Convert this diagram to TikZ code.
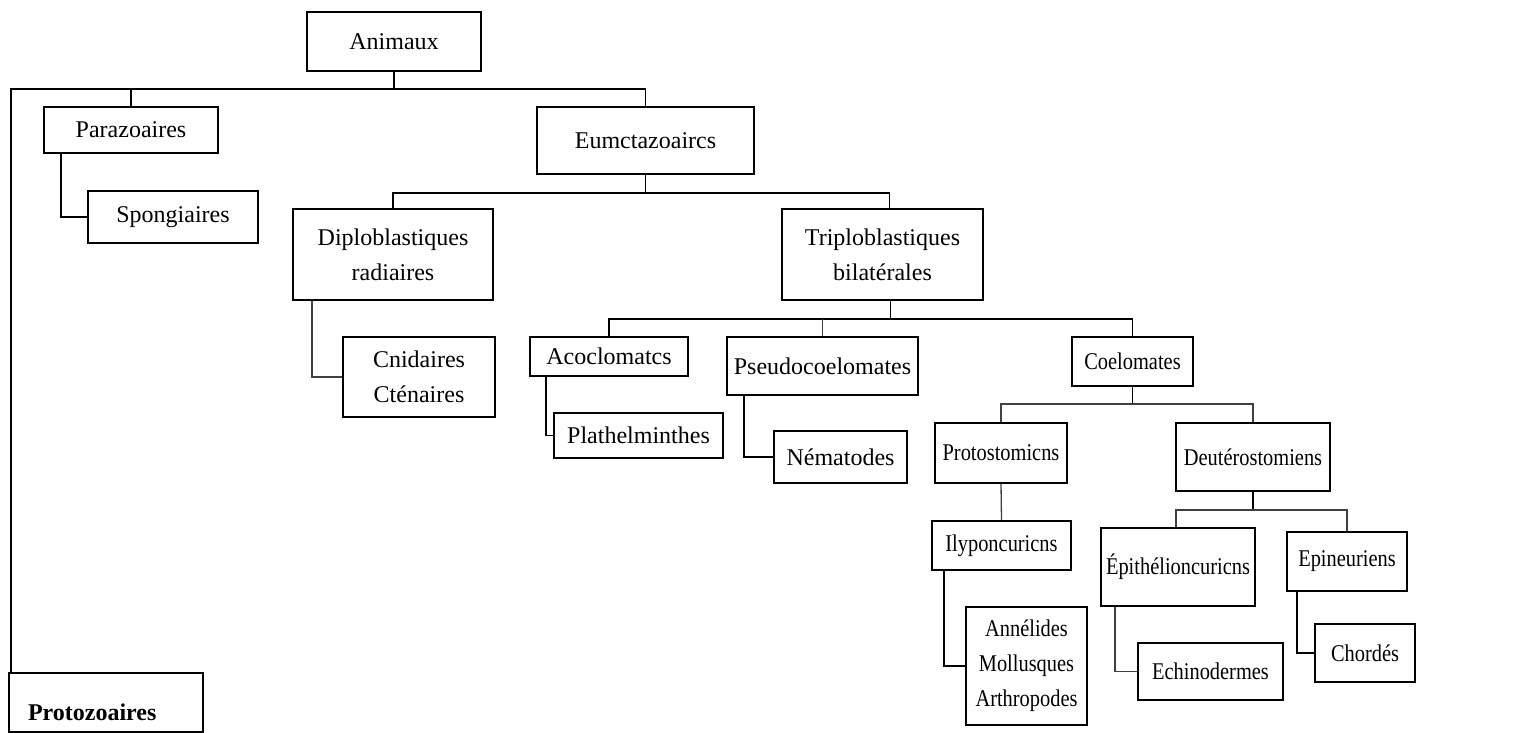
\documentclass[tikz,border=0pt]{standalone}
\usepackage{fontspec}
\setmainfont{Liberation Serif}
\newfontfamily\narrowserif[FakeStretch=0.85]{Liberation Serif}
\begin{document}
\begin{tikzpicture}[x=1pt,y=-1pt,
  box/.style={draw=black, line width=2pt, inner sep=0pt, align=center,
    font=\fontsize{24}{35}\selectfont},
  narrow/.style={font=\fontsize{24}{35}\selectfont\narrowserif},
  link/.style={draw=black, line width=1.8pt},
  thin link/.style={draw=black!75, line width=1.3pt}]
\useasboundingbox (0,0) rectangle (1525,733);
% nodes
\node[box, minimum width=174pt, minimum height=59pt] (animaux) at (394,41.5) {Animaux};
\node[box, minimum width=174pt, minimum height=46pt] (parazo) at (131,130) {Parazoaires};
\node[box, minimum width=170pt, minimum height=52pt] (spong) at (173,217) {Spongiaires};
\node[box, minimum width=217pt, minimum height=67pt] (eume) at (645.5,140.5) {Eumctazoaircs};
\node[box, minimum width=200pt, minimum height=91pt] (diplo) at (393,254.5) {Diploblastiques\\radiaires};
\node[box, minimum width=152pt, minimum height=80pt] (cnid) at (419,377) {Cnidaires\\Cténaires};
\node[box, minimum width=201pt, minimum height=91pt] (triplo) at (882.5,254.5) {Triploblastiques\\bilatérales};
\node[box, minimum width=158pt, minimum height=39pt] (acoel) at (609,356.5) {Acoclomatcs};
\node[box, minimum width=169pt, minimum height=45pt] (plath) at (638.5,435.5) {Plathelminthes};
\node[box, minimum width=191pt, minimum height=58pt] (pseudo) at (822.5,366) {Pseudocoelomates};
\node[box, minimum width=133pt, minimum height=52pt] (nemat) at (840.5,457) {Nématodes};
\node[box, narrow, minimum width=121pt, minimum height=49pt] (coel) at (1132.5,361.5) {Coelomates};
\node[box, narrow, minimum width=132pt, minimum height=60pt] (proto) at (1001,453) {Protostomicns};
\node[box, narrow, minimum width=154pt, minimum height=68pt] (deut) at (1253,457) {Deutérostomiens};
\node[box, narrow, minimum width=139pt, minimum height=49pt] (hypo) at (1001.5,545.5) {Ilyponcuricns};
\node[box, narrow, minimum width=121pt, minimum height=118pt] (annel) at (1026.5,666) {Annélides\\Mollusques\\Arthropodes};
\node[box, narrow, minimum width=154pt, minimum height=78pt] (epith) at (1178,567) {Épithélioncuricns};
\node[box, narrow, minimum width=120pt, minimum height=59pt] (epin) at (1347,561.5) {Epineuriens};
\node[box, narrow, minimum width=145pt, minimum height=57pt] (echin) at (1210.5,671.5) {Echinodermes};
\node[box, narrow, minimum width=100pt, minimum height=58pt] (chord) at (1365,653) {Chordés};
\node[box, minimum width=194pt, minimum height=59pt, text width=156pt, align=left,
  text height=35pt, text depth=0pt,
  font=\fontsize{24}{35}\selectfont\bfseries] (protoz) at (106,702.5) {Protozoaires};
% bars
\coordinate (b1) at (0,89);
\coordinate (b2) at (0,193);
\coordinate (b3) at (0,319);
\coordinate (b4) at (0,404);
\coordinate (b5) at (0,510);
\coordinate (pzt) at (11,672);
% connectors
\draw[link] (animaux.south) -- (animaux.south |- b1);
\draw[link] (pzt) |- (eume.north |- b1) -- (eume.north);
\draw[link] (parazo.north) -- (parazo.north |- b1);
\draw[link] ([xshift=18pt]parazo.south west) |- (spong.west);
\draw[link] (eume.south) -- (eume.south |- b2);
\draw[link] (diplo.north) |- ([xshift=7pt]triplo.north |- b2) -- ([xshift=7pt]triplo.north);
\draw[thin link] ([xshift=20pt]diplo.south west) |- (cnid.west);
\draw[link] ([xshift=8pt]triplo.south) -- ([xshift=8pt]triplo.south |- b3);
\draw[link] (acoel.north) |- (coel.north |- b3) -- (coel.north);
\draw[thin link] (pseudo.north) -- (pseudo.north |- b3);
\draw[link] ([xshift=17pt]acoel.south west) |- (plath.west);
\draw[link] ([xshift=18pt]pseudo.south west) |- (nemat.west);
\draw[link] (coel.south) -- (coel.south |- b4);
\draw[thin link] (proto.north) |- (deut.north |- b4) -- (deut.north);
\draw[thin link] (proto.south) -- (hypo.north);
\draw[link] ([xshift=13pt]hypo.south west) |- (annel.west);
\draw[link] (deut.south) -- (deut.south |- b5);
\draw[thin link] ([xshift=-2pt]epith.north) |- (epin.north |- b5) -- (epin.north);
\draw[thin link] ([xshift=15pt]epith.south west) |- (echin.west);
\draw[link] ([xshift=11pt]epin.south west) |- (chord.west);
\end{tikzpicture}
\end{document}
